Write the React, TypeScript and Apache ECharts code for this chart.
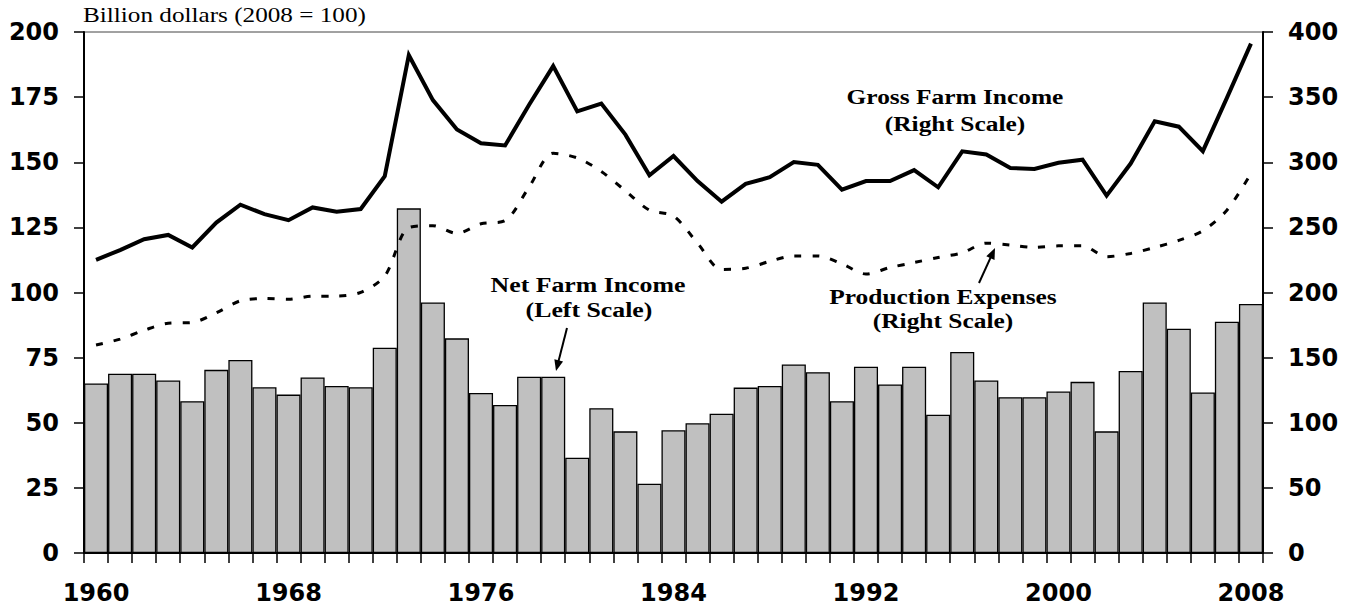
import React, { useEffect, useRef } from "react";
import * as echarts from "echarts";

const years = [
  "1960","1961","1962","1963","1964","1965","1966","1967","1968","1969",
  "1970","1971","1972","1973","1974","1975","1976","1977","1978","1979",
  "1980","1981","1982","1983","1984","1985","1986","1987","1988","1989",
  "1990","1991","1992","1993","1994","1995","1996","1997","1998","1999",
  "2000","2001","2002","2003","2004","2005","2006","2007","2008",
];

// Net farm income, left scale
const netFarmIncome = [
  65.1, 68.8, 68.8, 66.2, 58.3, 70.3, 74.1, 63.6, 60.8, 67.4,
  64.1, 63.6, 78.8, 132.3, 96.2, 82.4, 61.4, 56.8, 67.7, 67.7,
  36.6, 55.6, 46.7, 26.6, 47.1, 49.8, 53.5, 63.5, 64.1, 72.4,
  69.4, 58.3, 71.5, 64.7, 71.5, 53.1, 77.2, 66.2, 59.8, 59.8,
  62.0, 65.7, 46.7, 69.9, 96.2, 86.1, 61.6, 88.8, 95.6,
];

// Gross farm income, right scale
const grossFarmIncome = [
  225.1, 232.6, 240.9, 244.2, 234.6, 253.7, 267.4, 260.2, 255.5, 265.3,
  262.0, 264.1, 289.4, 382.2, 347.7, 325.1, 314.6, 312.9, 344.1, 373.8,
  339.0, 345.0, 321.2, 290.0, 304.8, 285.5, 269.7, 283.4, 288.5, 300.1,
  298.0, 279.0, 285.6, 285.6, 294.0, 280.8, 308.4, 306.0, 295.6, 294.9,
  299.6, 302.0, 274.4, 299.0, 331.5, 327.3, 308.5, 349.4, 391.1,
];

// Production expenses, right scale
const productionExpenses = [
  159.7, 164.2, 171.0, 176.4, 177.0, 184.4, 193.6, 195.4, 194.8, 197.2,
  197.2, 200.1, 212.6, 249.8, 251.3, 245.4, 252.8, 255.2, 281.0, 306.9,
  303.3, 292.9, 278.1, 263.2, 258.7, 237.9, 217.7, 218.6, 223.9, 228.1,
  228.1, 222.0, 214.2, 219.2, 223.0, 226.9, 230.5, 237.9, 236.4, 234.6,
  235.8, 235.8, 227.5, 230.0, 234.6, 240.0, 247.4, 263.2, 291.4,
];

const leftTicks = { min: 0, max: 200, interval: 25 };
const rightTicks = { min: 0, max: 400, interval: 50 };

const serif = '"Liberation Serif", "Times New Roman", serif';
const sans = '"DejaVu Sans", Arial, sans-serif';

function arrow(x1: number, y1: number, x2: number, y2: number) {
  const dx = x2 - x1;
  const dy = y2 - y1;
  const len = Math.sqrt(dx * dx + dy * dy);
  const ux = dx / len;
  const uy = dy / len;
  const headLen = 11;
  const half = 4.5;
  const bx = x2 - ux * headLen;
  const by = y2 - uy * headLen;
  const px = -uy;
  const py = ux;
  return [
    {
      type: "line",
      shape: { x1, y1, x2: bx + ux * 2, y2: by + uy * 2 },
      style: { stroke: "#000", lineWidth: 2 },
      z: 100,
    },
    {
      type: "polygon",
      shape: {
        points: [
          [x2, y2],
          [bx + px * half, by + py * half],
          [bx - px * half, by - py * half],
        ],
      },
      style: { fill: "#000" },
      z: 100,
    },
  ];
}

function label(text: string, x: number, y: number, sx: number) {
  return {
    type: "text",
    x,
    y,
    scaleX: sx,
    z: 100,
    style: {
      text,
      font: `bold 20px ${serif}`,
      fill: "#000",
      textAlign: "center",
      textVerticalAlign: "middle",
    },
  };
}

export default function App() {
  const ref = useRef<HTMLDivElement>(null);

  useEffect(() => {
    if (!ref.current) return;
    const chart = echarts.init(ref.current, undefined, { renderer: "svg" });
    const axisLabelStyle = {
      fontFamily: sans,
      fontWeight: "bold" as const,
      fontSize: 24,
      color: "#000",
    };
    chart.setOption({
      animation: false,
      backgroundColor: "#fff",
      grid: {
        left: 84,
        right: 94,
        top: 32,
        bottom: 56,
        show: true,
        borderColor: "#444",
        borderWidth: 1,
        backgroundColor: "transparent",
      },
      xAxis: {
        type: "category",
        data: years,
        boundaryGap: true,
        axisLine: { lineStyle: { color: "#000", width: 2 } },
        axisTick: {
          show: true,
          interval: 0,
          length: 10,
          lineStyle: { color: "#000", width: 1.5 },
        },
        axisLabel: {
          ...axisLabelStyle,
          margin: 28,
          interval: (i: number) => i % 8 === 0,
        },
        splitLine: { show: false },
      },
      yAxis: [
        {
          type: "value",
          position: "left",
          min: leftTicks.min,
          max: leftTicks.max,
          interval: leftTicks.interval,
          axisLine: { show: true, lineStyle: { color: "#000", width: 2 } },
          axisTick: { show: true, length: 10, lineStyle: { color: "#000", width: 1.5 } },
          axisLabel: { ...axisLabelStyle, margin: 25 },
          splitLine: { show: false },
        },
        {
          type: "value",
          position: "right",
          min: rightTicks.min,
          max: rightTicks.max,
          interval: rightTicks.interval,
          axisLine: { show: true, lineStyle: { color: "#000", width: 2 } },
          axisTick: { show: true, length: 10, lineStyle: { color: "#000", width: 1.5 } },
          axisLabel: { ...axisLabelStyle, margin: 25 },
          splitLine: { show: false },
        },
      ],
      series: [
        {
          name: "Net Farm Income",
          type: "bar",
          yAxisIndex: 0,
          data: netFarmIncome,
          barCategoryGap: "0%",
          itemStyle: { color: "#c0c0c0", borderColor: "#000", borderWidth: 1.3 },
          z: 2,
        },
        {
          name: "Gross Farm Income",
          type: "line",
          yAxisIndex: 1,
          data: grossFarmIncome,
          symbol: "none",
          lineStyle: { color: "#000", width: 4, join: "miter" },
          z: 4,
        },
        {
          name: "Production Expenses",
          type: "line",
          yAxisIndex: 1,
          data: productionExpenses,
          symbol: "none",
          smooth: 0.3,
          lineStyle: { color: "#000", width: 3, type: [7, 11] },
          z: 4,
        },
      ],
      graphic: [
        {
          type: "text",
          x: 83,
          y: 15,
          scaleX: 1.2,
          z: 100,
          style: {
            text: "Billion dollars (2008 = 100)",
            font: `21px ${serif}`,
            fill: "#000",
            textAlign: "left",
            textVerticalAlign: "middle",
          },
        },
        label("Gross Farm Income", 955, 97, 1.27),
        label("(Right Scale)", 955, 124, 1.27),
        label("Net Farm Income", 588, 285, 1.29),
        label("(Left Scale)", 589, 310, 1.29),
        label("Production Expenses", 943, 297, 1.27),
        label("(Right Scale)", 943, 321, 1.27),
        ...arrow(567, 328, 556, 371),
        ...arrow(979, 283, 995, 248),
      ],
    });
    return () => chart.dispose();
  }, []);

  return (
    <div
      ref={ref}
      style={{ position: "absolute", left: 0, top: 0, width: 1357, height: 609, background: "#fff" }}
    />
  );
}
